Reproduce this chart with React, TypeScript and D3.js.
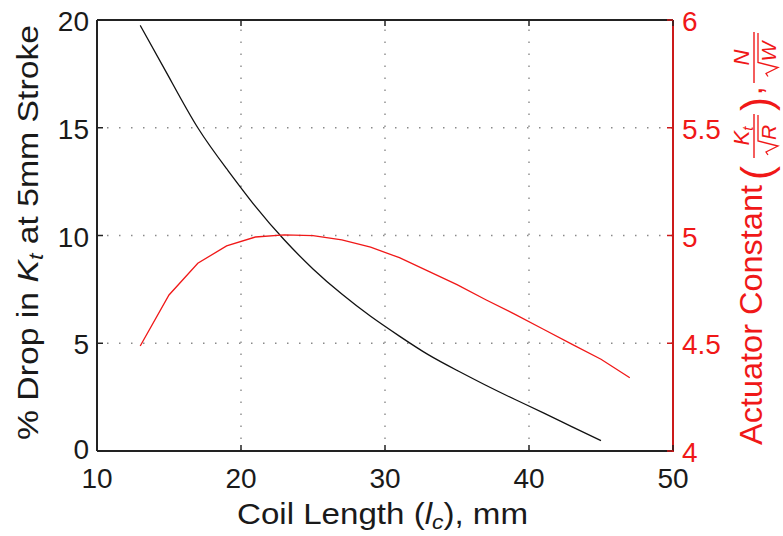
import React from "react";
import * as d3 from "d3";

const coilBlack = [13, 15, 17, 19, 21, 23, 25, 27, 29, 31, 33, 35, 37, 39, 41, 43, 45];
const dropKt = [19.75, 17.35, 15.0, 13.1, 11.35, 9.8, 8.45, 7.28, 6.25, 5.33, 4.47, 3.74, 3.05, 2.4, 1.77, 1.12, 0.48];
const coilRed = [13, 15, 17, 19, 21, 23, 25, 27, 29, 31, 33, 35, 37, 39, 41, 43, 45, 47];
const actConst = [4.487, 4.724, 4.871, 4.952, 4.993, 5.003, 4.999, 4.98, 4.946, 4.897, 4.835, 4.772, 4.702, 4.635, 4.565, 4.495, 4.426, 4.34];
const xTicks = [10, 20, 30, 40, 50];
const yLeftTicks = [0, 5, 10, 15, 20];
const yRightTicks = [4, 4.5, 5, 5.5, 6];

const W = 783, H = 536;
const L = 97, R = 673, T = 20, B = 451;
const RED = "#f01818";
const AXRED = "#cc1a1a";
const FONT = '"Liberation Sans", Arimo, Arial, sans-serif';

export default function App() {
  const x = d3.scaleLinear().domain([10, 50]).range([L, R]);
  const yL = d3.scaleLinear().domain([0, 20]).range([B, T]);
  const yR = d3.scaleLinear().domain([4, 6]).range([B, T]);

  const blackLine = d3.line<number>()
    .x((_, i) => x(coilBlack[i]))
    .y((d) => yL(d))
    .curve(d3.curveNatural)(dropKt) as string;
  const redLine = d3.line<number>()
    .x((_, i) => x(coilRed[i]))
    .y((d) => yR(d))(actConst) as string;

  const grid = "#8a8a8a";
  const tick = 6;
  const ff = { fontFamily: FONT };

  const frac = (x0: number, x1: number, num: React.ReactNode, den: string, key: string) => {
    const cx = (x0 + x1) / 2;
    const rx = cx - 14;
    return (
      <g key={key}>
        <text x={cx} y={-13} fontSize={22} textAnchor="middle" fill={RED} style={ff}>{num}</text>
        <line x1={x0} x2={x1} y1={-8} y2={-8} stroke={RED} strokeWidth={1.4} />
        <path d={`M${rx - 5},${6} L${rx - 2},${4} L${rx + 4},${16} L${rx + 9},${-4} L${x1 - 1},${-4}`} fill="none" stroke={RED} strokeWidth={1.3} />
        <text x={rx + 10} y={14} fontSize={21} fontStyle="italic" fill={RED} style={ff}>{den}</text>
      </g>
    );
  };

  return (
    <svg width={W} height={H} style={{ position: "absolute", left: 0, top: 0, background: "#fff", fontFamily: FONT }}>
      <rect x={0} y={0} width={W} height={H} fill="#fff" />
      {xTicks.filter((t) => t > 10 && t < 50).map((t) => (
        <line key={"gx" + t} x1={x(t)} x2={x(t)} y1={B} y2={T} stroke={grid} strokeWidth={1.4} strokeDasharray="1.5,10.5" />
      ))}
      {yLeftTicks.filter((t) => t > 0 && t < 20).map((t) => (
        <line key={"gy" + t} x1={L} x2={R} y1={yL(t)} y2={yL(t)} stroke={grid} strokeWidth={1.4} strokeDasharray="1.5,10.5" strokeDashoffset={-10} />
      ))}
      <path d={blackLine} fill="none" stroke="#111" strokeWidth={1.3} />
      <path d={redLine} fill="none" stroke={RED} strokeWidth={1.3} />
      <line x1={L} x2={R} y1={T} y2={T} stroke="#222" strokeWidth={2} />
      <line x1={L} x2={R} y1={B} y2={B} stroke="#222" strokeWidth={2} />
      <line x1={L} x2={L} y1={T} y2={B} stroke="#222" strokeWidth={2} />
      <line x1={R} x2={R} y1={T} y2={B + 1} stroke={AXRED} strokeWidth={2} />
      {xTicks.map((t) => (
        <g key={"xt" + t}>
          <line x1={x(t)} x2={x(t)} y1={B} y2={B - tick} stroke="#222" strokeWidth={1.5} />
          <line x1={x(t)} x2={x(t)} y1={T} y2={T + tick} stroke="#222" strokeWidth={1.5} />
          <text x={x(t)} y={488} fontSize={28} textAnchor="middle" fill="#1a1a1a" style={ff}>{t}</text>
        </g>
      ))}
      {yLeftTicks.map((t) => (
        <g key={"yl" + t}>
          <line x1={L} x2={L + tick} y1={yL(t)} y2={yL(t)} stroke="#222" strokeWidth={1.5} />
          <text x={89} y={yL(t) + (t === 0 ? 8 : 11)} fontSize={28} textAnchor="end" fill="#1a1a1a" style={ff}>{t}</text>
        </g>
      ))}
      {yRightTicks.map((t) => (
        <g key={"yr" + t}>
          <line x1={R} x2={R - tick} y1={yR(t)} y2={yR(t)} stroke={AXRED} strokeWidth={1.5} />
          <text x={682} y={yR(t) + 11} fontSize={28} textAnchor="start" fill={RED} style={ff}>{t}</text>
        </g>
      ))}
      <text x={382.5} y={524} fontSize={29} textAnchor="middle" fill="#1a1a1a" textLength={291} lengthAdjust="spacingAndGlyphs" style={ff}>
        Coil Length (<tspan fontStyle="italic">l</tspan><tspan fontStyle="italic" fontSize={20} dy={5}>c</tspan><tspan dy={-5}>), mm</tspan>
      </text>
      <text transform="translate(38,232.5) rotate(-90)" x={0} y={0} fontSize={29} textAnchor="middle" fill="#1a1a1a" textLength={415} lengthAdjust="spacingAndGlyphs" style={ff}>
        % Drop in <tspan fontStyle="italic">K</tspan><tspan fontStyle="italic" fontSize={20} dy={5}>t</tspan><tspan dy={-5}> at 5mm Stroke</tspan>
      </text>
      <g transform="translate(762,445) rotate(-90)">
        <text x={0} y={0} fontSize={31} fill={RED} textLength={260} lengthAdjust="spacingAndGlyphs" style={ff}>Actuator Constant</text>
        <text x={265} y={9} fontSize={42} fill={RED} style={ff}>(</text>
        {frac(287, 331, (<><tspan fontStyle="italic">K</tspan><tspan fontStyle="italic" fontSize={15} dy={4}>t</tspan></>), "R", "f1")}
        <text x={334} y={9} fontSize={42} fill={RED} style={ff}>)</text>
        <text x={350} y={0} fontSize={31} fill={RED} style={ff}>,</text>
        {frac(362, 413, (<tspan fontStyle="italic">N</tspan>), "W", "f2")}
      </g>
    </svg>
  );
}
